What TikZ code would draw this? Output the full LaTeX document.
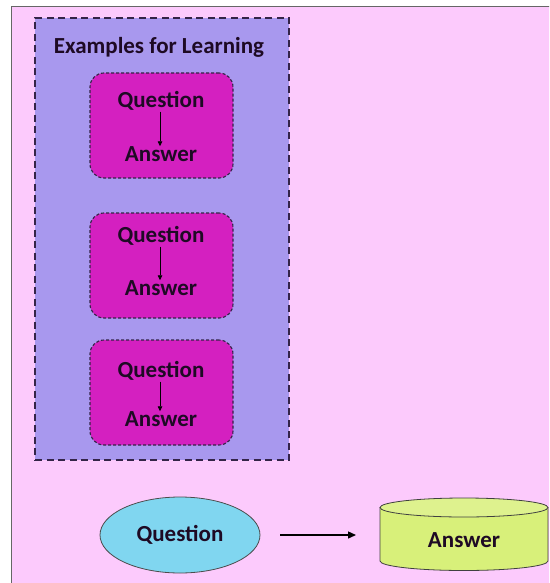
\documentclass[tikz,border=0pt]{standalone}
\usepackage{fontspec}
\setmainfont{Carlito}
\usetikzlibrary{shapes.geometric,arrows.meta}
\definecolor{bgpink}{RGB}{252,202,252}
\definecolor{lilac}{RGB}{168,152,238}
\definecolor{magbox}{RGB}{212,32,192}
\definecolor{dashdark}{RGB}{52,36,72}
\definecolor{txtdark}{RGB}{30,10,36}
\definecolor{cyanell}{RGB}{128,214,240}
\definecolor{limecyl}{RGB}{216,240,122}
\tikzset{
  lbl/.style={font=\fontsize{23}{26}\selectfont\bfseries, text=txtdark, inner sep=0pt},
  exbox/.style={draw=dashdark, dash pattern=on 3pt off 2pt, line width=1.1pt, fill=magbox,
    rounded corners=14pt, minimum width=143pt, minimum height=105pt},
  smallarrow/.style={-{Triangle[length=5pt,width=4.5pt]}, line width=0.8pt, draw=black},
  bigarrow/.style={-{Triangle[length=8pt,width=7pt]}, line width=1.4pt, draw=black}
}
\begin{document}
\begin{tikzpicture}[x=1pt,y=1pt]
\useasboundingbox (0,0) rectangle (549,-583);
\clip (0,0) rectangle (549,-583);
% background
\fill[white] (0,0) rectangle (549,-583);
\draw[fill=bgpink, draw=gray!80!black, line width=0.8pt] (11,-6) rectangle (560,-600);
% examples container
\node[draw=dashdark, fill=lilac, dash pattern=on 7pt off 4.5pt, line width=1.8pt,
  minimum width=254pt, minimum height=442pt, inner sep=0pt] (examples) at (162,-239) {};
\node[lbl] (title) at (159,-47) {Examples for Learning};
% example boxes
\node[exbox] (box1) at (161.5,-125.5) {};
\node[exbox] (box2) at (161.5,-265.5) {};
\node[exbox] (box3) at (161.5,-392.5) {};
\node[lbl] (q1) at (161,-101) {Question};
\node[lbl] (a1) at (161,-154) {Answer};
\node[lbl] (q2) at (161,-236) {Question};
\node[lbl] (a2) at (161,-288) {Answer};
\node[lbl] (q3) at (161,-371) {Question};
\node[lbl] (a3) at (161,-419) {Answer};
\draw[smallarrow] (q1.south) ++(-1,-1) coordinate (s1) -- (s1 |- a1.north);
\draw[smallarrow] (q2.south) ++(-1,-1) coordinate (s2) -- (s2 |- a2.north);
\draw[smallarrow] (q3.south) ++(-1,-1) coordinate (s3) -- (s3 |- a3.north);
% bottom row
\node[ellipse, draw=gray!60!black, line width=0.8pt, fill=cyanell, minimum width=160pt,
  minimum height=76pt, inner sep=0pt] (qell) at (180,-535) {};
\node[lbl] (qtext) at (180,-535) {Question};
% cylinder drawn manually
\fill[limecyl] (380,-507.5) -- (380,-561) arc (180:360:84 and 9.5) -- (548,-507.5) arc (0:180:84 and 9.5) -- cycle;
\draw[gray!50!black, line width=0.8pt] (380,-507.5) -- (380,-561) arc (180:360:84 and 9.5) -- (548,-507.5);
\draw[gray!50!black, fill=limecyl!85!white, line width=0.8pt] (464,-507.5) ellipse (84 and 9.5);
\node[minimum width=168pt, minimum height=72pt, inner sep=0pt] (cyl) at (464,-534) {};
\node[lbl] (atext) at (464,-540) {Answer};
\coordinate (arrs) at (280,-535);
\coordinate (arre) at (356,-535);
\draw[bigarrow] (arrs) -- (arre);
\end{tikzpicture}
\end{document}
